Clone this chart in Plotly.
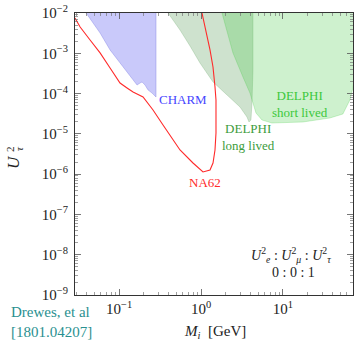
import numpy as np
import plotly.graph_objects as go

# ---- data ----
na62_M = [0.029, 0.0335, 0.0443, 0.0587, 0.0777, 0.1028, 0.1252, 0.1482, 0.1962, 0.2598,
          0.344, 0.4555, 0.5545, 0.7988, 1.058, 1.288, 1.401, 1.482, 1.524, 1.524,
          1.524, 1.482, 1.401, 1.288, 1.151, 1.028]
na62_U = [7.5e-3, 4.5e-3, 2.14e-3, 1.02e-3, 4.31e-4, 1.83e-4, 1.38e-4, 1.09e-4, 8.22e-5, 3.91e-5,
          1.66e-5, 7.05e-6, 3.98e-6, 1.89e-6, 1.13e-6, 1.27e-6, 1.89e-6, 3.98e-6, 1.05e-5, 2.62e-5,
          6.93e-5, 1.46e-4, 4.57e-4, 1.21e-3, 3.78e-3, 1.0e-2]

charm_M = [0.0396, 0.0587, 0.0777, 0.1028, 0.1362, 0.1658, 0.1804, 0.1908, 0.2075, 0.2258,
           0.2526, 0.2826, 0.2826]
charm_U = [1.0e-2, 3.19e-3, 1.21e-3, 5.74e-4, 2.58e-4, 1.63e-4, 1.83e-4, 1.94e-4, 1.63e-4, 1.23e-4,
           1.03e-4, 8.22e-5, 1.0e-2]

delphi_long_M = [0.396, 0.5545, 0.7343, 0.9723, 1.401, 2.075, 2.99, 3.639, 3.849, 4.072,
                 4.188, 4.306, 4.306]
delphi_long_U = [1.0e-2, 3.78e-3, 1.52e-3, 5.74e-4, 1.94e-4, 9.22e-5, 4.65e-5, 2.62e-5, 1.97e-5, 2.21e-5,
                 5.83e-5, 3.85e-4, 1.0e-2]

delphi_short_M = [1.804, 2.456, 3.252, 3.959, 4.306, 4.686, 5.545, 7.343, 17.53, 37.43,
                  53.91, 65.63, 71.41, 80.0, 80.0]
delphi_short_U = [1.0e-2, 1.02e-3, 2.58e-4, 1.03e-4, 5.83e-5, 3.3e-5, 2.21e-5, 1.86e-5, 1.97e-5, 2.48e-5,
                  3.11e-5, 6.93e-5, 1.38e-4, 1.0e-3, 1.0e-2]

x_decades = [-1, 0, 1]
y_decades = [-9, -8, -7, -6, -5, -4, -3, -2]

# ---- layout geometry ----
W, H = 354, 340
L, R, T, B = 75, 1, 13, 45
pw, ph = W - L - R, H - T - B

def px(x):
    return (x - L) / pw

def py(y):
    return (H - B - y) / ph

SERIF = "Liberation Serif"

fig = go.Figure()

fig.add_trace(go.Scatter(x=delphi_long_M, y=delphi_long_U, fill="toself", mode="lines",
                         fillcolor="rgba(60,140,60,0.25)",
                         line=dict(color="rgba(60,140,60,0.25)", width=0.8), hoverinfo="skip",
                         showlegend=False))
fig.add_trace(go.Scatter(x=delphi_short_M, y=delphi_short_U, fill="toself", mode="lines",
                         fillcolor="rgba(60,200,60,0.25)",
                         line=dict(color="rgba(60,200,60,0.3)", width=0.8), hoverinfo="skip",
                         showlegend=False))
fig.add_trace(go.Scatter(x=charm_M, y=charm_U, fill="toself", mode="lines",
                         fillcolor="rgba(100,100,240,0.35)",
                         line=dict(color="rgba(100,100,220,0.4)", width=0.8), hoverinfo="skip",
                         showlegend=False))
fig.add_trace(go.Scatter(x=na62_M, y=na62_U, mode="lines",
                         line=dict(color="#ff2a2a", width=1.1), hoverinfo="skip",
                         showlegend=False))

def sup(n):
    return "10<sup>" + (str(n) if n >= 0 else "\u2212" + str(-n)) + "</sup>"

minor_x = [m * 10.0 ** d for d in range(-2, 2) for m in range(2, 10)]
minor_y = [m * 10.0 ** d for d in range(-9, -2) for m in range(2, 10)]

axis_common = dict(showline=True, linecolor="#333333", linewidth=1, mirror="allticks",
                   ticks="inside", ticklen=6, tickcolor="#555555", tickwidth=0.8,
                   showgrid=False, zeroline=False, automargin=False,
                   tickfont=dict(family=SERIF, size=15, color="#222222"))

fig.update_xaxes(type="log", range=[np.log10(0.029), np.log10(71.6)],
                 tickmode="array", tickvals=[10.0 ** d for d in x_decades],
                 ticktext=[sup(d) for d in x_decades],
                 minor=dict(tickmode="array", tickvals=minor_x, ticks="inside", ticklen=3,
                            tickcolor="#777777", tickwidth=0.7),
                 **axis_common)
fig.update_yaxes(type="log", range=[-9, -2],
                 tickmode="array", tickvals=[10.0 ** d for d in y_decades],
                 ticktext=[sup(d) for d in y_decades],
                 minor=dict(tickmode="array", tickvals=minor_y, ticks="inside", ticklen=3,
                            tickcolor="#777777", tickwidth=0.7),
                 ticklabelstandoff=3,
                 **axis_common)

ann = []
# region labels (data coordinates, log units)
ann.append(dict(x=np.log10(0.2906), y=np.log10(6.93e-5), xref="x", yref="y", text="CHARM",
                xanchor="left", yanchor="middle", showarrow=False,
                font=dict(family=SERIF, size=13, color="#4646ff")))
ann.append(dict(x=np.log10(3.85), y=np.log10(8.6e-6), xref="x", yref="y",
                text="DELPHI<br>long lived", xanchor="center", yanchor="middle", showarrow=False,
                font=dict(family=SERIF, size=13, color="#3c9c3c")))
ann.append(dict(x=np.log10(16.1), y=np.log10(5.36e-5), xref="x", yref="y",
                text="DELPHI<br>short lived", xanchor="center", yanchor="middle", showarrow=False,
                font=dict(family=SERIF, size=13, color="#3cc83c")))
ann.append(dict(x=np.log10(1.119), y=np.log10(6.38e-7), xref="x", yref="y", text="NA62",
                xanchor="center", yanchor="middle", showarrow=False,
                font=dict(family=SERIF, size=13, color="#ff2a2a")))
# flavour ratio
ann.append(dict(x=px(291), y=py(255), xref="paper", yref="paper",
                text="<i>U</i><sup>2</sup><sub><i>e</i></sub> : <i>U</i><sup>2</sup><sub><i>\u03bc</i></sub> : <i>U</i><sup>2</sup><sub><i>\u03c4</i></sub>",
                xanchor="center", yanchor="middle", showarrow=False,
                font=dict(family=SERIF, size=14, color="#222222")))
ann.append(dict(x=px(293), y=py(272), xref="paper", yref="paper", text="0 : 0 : 1",
                xanchor="center", yanchor="middle", showarrow=False,
                font=dict(family=SERIF, size=14, color="#222222")))
# axis titles
ann.append(dict(x=px(215), y=py(332), xref="paper", yref="paper",
                text="<i>M<sub>i</sub></i>  [GeV]", xanchor="center", yanchor="middle",
                showarrow=False, font=dict(family=SERIF, size=15, color="#222222")))
ann.append(dict(x=px(13), y=py(162), xref="paper", yref="paper", text="<i>U</i>",
                textangle=-90, xanchor="center", yanchor="middle", showarrow=False,
                font=dict(family=SERIF, size=17, color="#222222")))
ann.append(dict(x=px(10), y=py(149), xref="paper", yref="paper", text="2",
                textangle=-90, xanchor="center", yanchor="middle", showarrow=False,
                font=dict(family=SERIF, size=11, color="#222222")))
ann.append(dict(x=px(19), y=py(149), xref="paper", yref="paper", text="<i>\u03c4</i>",
                textangle=-90, xanchor="center", yanchor="middle", showarrow=False,
                font=dict(family=SERIF, size=11, color="#222222")))
# citation
ann.append(dict(x=px(9), y=py(322), xref="paper", yref="paper",
                text="Drewes, et al<br>[1801.04207]", xanchor="left", yanchor="middle",
                align="left", showarrow=False,
                font=dict(family=SERIF, size=15, color="#2a9090")))

fig.update_layout(width=W, height=H, margin=dict(l=L, r=R, t=T, b=B, autoexpand=False),
                  plot_bgcolor="white", paper_bgcolor="white", annotations=ann,
                  showlegend=False, template="none")

fig.write_html("out.html", config={"displayModeBar": False, "staticPlot": True},
               post_script="document.body.style.margin='0';document.body.style.padding='0';")
